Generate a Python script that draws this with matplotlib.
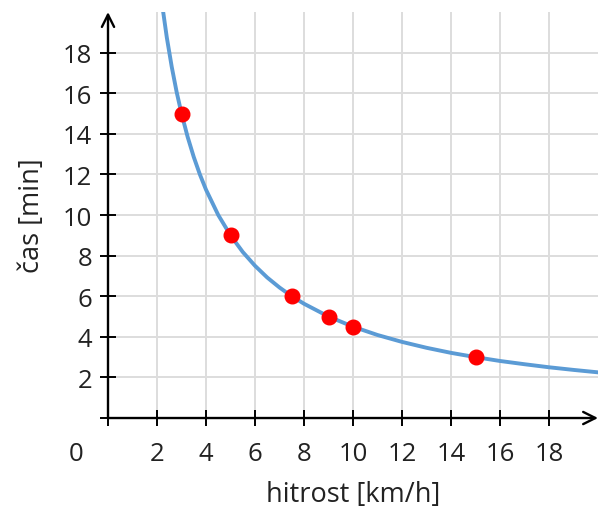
import matplotlib.pyplot as plt

plt.rcParams['font.family'] = ['Open Sans', 'DejaVu Sans']

# measured points (speed km/h, time min)
speed = [3, 5, 7.5, 9, 10, 15]
time = [15, 9, 6, 5, 4.5, 3]

# curve
curve_v = [2.2, 2.4, 2.6, 2.8, 3, 3.25, 3.5, 3.75, 4, 4.5, 5, 5.5, 6, 6.5, 7, 7.5,
           8, 9, 10, 11, 12, 13, 14, 15, 16, 17, 18, 19, 20]
curve_t = [20.45, 18.75, 17.31, 16.07, 15, 13.85, 12.86, 12, 11.25, 10, 9, 8.18,
           7.5, 6.92, 6.43, 6, 5.63, 5, 4.5, 4.09, 3.75, 3.46, 3.21, 3, 2.81, 2.65,
           2.5, 2.37, 2.25]

xticks = [0, 2, 4, 6, 8, 10, 12, 14, 16, 18]
yticks = [0, 2, 4, 6, 8, 10, 12, 14, 16, 18]

fig = plt.figure(figsize=(6, 5.1), dpi=100)
ax = fig.add_axes([0.18, 0.1784, 0.8167, 0.796])
ax.set_xlim(0, 20)
ax.set_ylim(0, 20)

for s in ax.spines.values():
    s.set_visible(False)

# grid
for x in xticks[1:]:
    ax.plot([x, x], [0, 20], color='#dddddd', lw=1.4, zorder=0)
for y in yticks[1:]:
    ax.plot([0, 20], [y, y], color='#dddddd', lw=1.4, zorder=0)

ax.plot(curve_v, curve_t, color='#5b9bd5', lw=2.8, zorder=2)
ax.plot(speed, time, 'o', color='#ff0000', ms=10.5, zorder=3)

# axes with arrows
arrow = dict(arrowstyle='->', color='black', lw=1.7, mutation_scale=22, shrinkA=0, shrinkB=0)
ax.annotate('', xy=(20, 0), xytext=(0, 0), arrowprops=arrow, annotation_clip=False)
ax.annotate('', xy=(0, 20), xytext=(0, 0), arrowprops=arrow, annotation_clip=False)

ax.set_xticks(xticks)
ax.set_yticks(yticks)
ax.set_xticklabels([''] + [str(v) for v in xticks[1:]])
ax.set_yticklabels([''] + [str(v) for v in yticks[1:]])
ax.tick_params(direction='inout', length=11, width=1.4, color='black',
               labelsize=18.5, labelcolor='#222222')
ax.tick_params(axis='x', pad=11)
ax.tick_params(axis='y', pad=6)
ax.text(-1.3, -1.75, '0', fontsize=18.5, ha='center', va='center', color='#222222')

ax.set_xlabel('hitrost [km/h]', fontsize=19.5, labelpad=10, color='#222222')
ax.set_ylabel('čas [min]', fontsize=19.5, labelpad=12, color='#222222')

fig.savefig('out.png', dpi=100)
